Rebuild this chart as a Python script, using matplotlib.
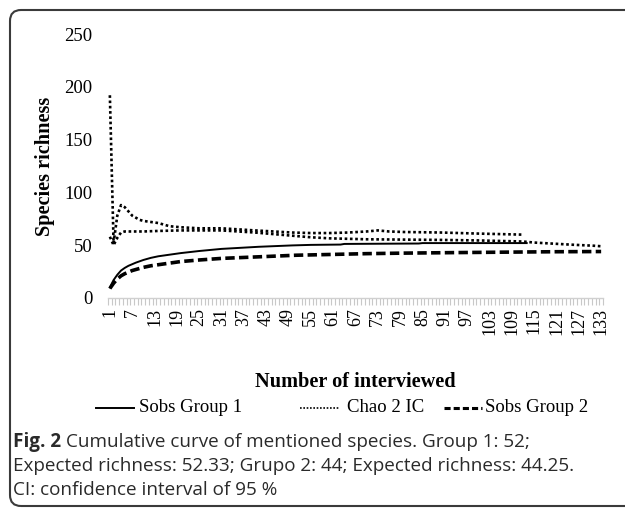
import matplotlib
matplotlib.use("Agg")
import matplotlib.pyplot as plt
from matplotlib.patches import FancyBboxPatch
from matplotlib.lines import Line2D
from matplotlib.transforms import IdentityTransform
from matplotlib.ticker import FixedLocator

# valores
tick_labels = [1, 7, 13, 19, 25, 31, 37, 43, 49, 55, 61, 67, 73, 79, 85, 91,
               97, 103, 109, 115, 121, 127, 133]
y_ticks = [0, 50, 100, 150, 200, 250]

sobs1_x = [1, 2, 3, 4, 5, 6, 7, 8, 10, 12, 14, 17, 20, 25, 31, 41, 50, 55,
           63, 64, 84, 85, 113]
sobs1_y = [10, 17, 22, 26, 28.5, 30.5, 32, 33.5, 36, 38, 39.5, 41, 42.5, 44.5,
           46.5, 48.5, 49.8, 50.3, 50.6, 51.2, 51.6, 52, 52]

sobs2_x = [1, 2, 3, 4, 5, 6, 7, 8, 10, 12, 14, 17, 20, 25, 31, 41, 51, 60, 70,
           80, 94, 110, 120, 133]
sobs2_y = [9, 14, 18, 21, 23, 24.5, 26, 27, 29, 30.5, 31.5, 33, 34.5, 36, 37.5,
           39, 40.5, 41.2, 42, 42.5, 43, 43.5, 43.8, 44]

chao_up_x = [1, 2, 3, 4, 5, 6, 7, 8, 9, 10, 12, 14, 17, 20, 25, 31, 40, 50, 55,
             60, 65, 70, 73, 76, 80, 90, 100, 112]
chao_up_y = [192, 52, 78, 88, 86, 82, 78, 76, 74, 73, 72, 71, 68, 67, 66, 66,
             64, 62, 61.5, 61.5, 62, 63, 64, 63, 62.5, 62, 61, 60]

chao_lo_x = [1, 2, 3, 4, 5, 7, 10, 14, 20, 31, 40, 50, 55, 60, 70, 90, 100,
             112, 115, 120, 125, 131, 133]
chao_lo_y = [58, 50, 57, 62, 63, 63, 63, 63.5, 64, 64, 62, 59, 57.5, 56.5,
             55.6, 55, 54.5, 53.5, 52.5, 51.5, 50.5, 49.5, 49]

legend_labels = ["Sobs Group 1", "Chao 2 IC", "Sobs Group 2"]

serif = "Liberation Serif"
W, H = 625, 508

fig = plt.figure(figsize=(W / 100, H / 100), dpi=100)

# moldura arredondada (lado direito cortado)
box = FancyBboxPatch((10, 2), 660, 496, boxstyle="round,pad=0,rounding_size=11",
                     transform=IdentityTransform(), fill=False,
                     edgecolor="#3a3a3a", linewidth=1.5)
fig.patches.append(box)

ax = fig.add_axes([108 / W, (H - 298) / H, (603 - 108) / W, (298 - 34) / H])

dot = (0, (1, 1))
dash = (0, (2.6, 1.2))
ax.plot(chao_up_x, chao_up_y, color="black", lw=1.9, linestyle=dot)
ax.plot(chao_lo_x, chao_lo_y, color="black", lw=1.9, linestyle=dot)
ax.plot(sobs1_x, sobs1_y, color="black", lw=1.4)
ax.plot(sobs2_x, sobs2_y, color="black", lw=2.6, linestyle=dash)

ax.set_xlim(0.5, 133.5)
ax.set_ylim(0, 250)

for s in ["top", "right", "left"]:
    ax.spines[s].set_visible(False)
ax.spines["bottom"].set_color("#d0d0d0")
ax.spines["bottom"].set_linewidth(1)

ax.xaxis.set_major_locator(FixedLocator(tick_labels))
ax.set_xticklabels([str(t) for t in tick_labels], rotation=90, fontfamily=serif,
                   fontsize=13)
ax.xaxis.set_minor_locator(FixedLocator([i + 0.5 for i in range(0, 134)]))
ax.tick_params(axis="x", which="major", length=0, pad=7)
ax.tick_params(axis="x", which="minor", length=5, color="#c8c8c8", width=0.8)

ax.set_yticks(y_ticks)
ax.set_yticklabels([str(t) for t in y_ticks], fontfamily=serif, fontsize=13.5)
ax.tick_params(axis="y", length=0, pad=11)

ax.set_xlabel("Number of interviewed", fontfamily=serif, fontsize=14.6,
              fontweight="bold", labelpad=27)
ax.set_ylabel("Species richness", fontfamily=serif, fontsize=14.6,
              fontweight="bold", labelpad=7)

# legenda desenhada à mão para acertar os espaçamentos
ly = (H - 408) / H
handle_specs = [
    ((96, 134), dict(lw=1.4, linestyle="-")),
    ((300, 340), dict(lw=1.2, linestyle=(0, (1, 1)))),
    ((444, 482), dict(lw=2.2, linestyle=(0, (2.0, 1.0)))),
]
text_x = [139, 347, 485]
for (x0, x1), kw in handle_specs:
    fig.add_artist(Line2D([x0 / W, x1 / W], [ly, ly], color="black",
                          transform=fig.transFigure, **kw))
for tx, lab in zip(text_x, legend_labels):
    fig.text(tx / W, ly, lab, fontfamily=serif, fontsize=13.5, va="center")

# legenda da figura
cap_font = "Open Sans"
cap_size = 13.55
cap_col = "#2a2a2a"
fig.canvas.draw()
r = fig.canvas.get_renderer()
t_fig = fig.text(13 / W, (H - 442) / H, "Fig. 2", fontfamily=cap_font,
                 fontsize=cap_size, fontweight="bold", va="center", color=cap_col)
ext = t_fig.get_window_extent(renderer=r)
fig.text((ext.x1 + 5) / W, (H - 442) / H,
         "Cumulative curve of mentioned species. Group 1: 52;",
         fontfamily=cap_font, fontsize=cap_size, va="center", color=cap_col)
fig.text(13 / W, (H - 466) / H,
         "Expected richness: 52.33; Grupo 2: 44; Expected richness: 44.25.",
         fontfamily=cap_font, fontsize=cap_size, va="center", color=cap_col)
fig.text(13 / W, (H - 490) / H, "CI: confidence interval of 95 %",
         fontfamily=cap_font, fontsize=cap_size, va="center", color=cap_col)

fig.savefig("out.png", dpi=100)
